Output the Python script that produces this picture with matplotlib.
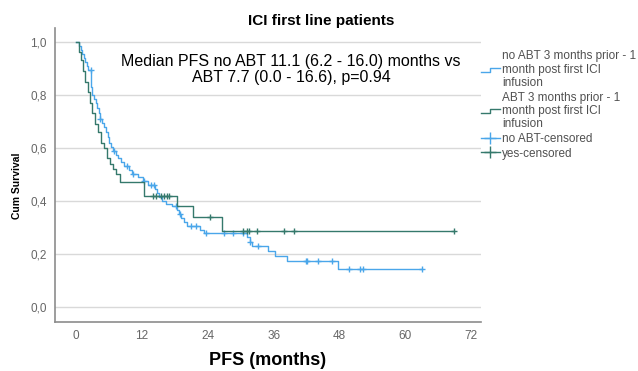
import numpy as np
import matplotlib
matplotlib.use('Agg')
import matplotlib.pyplot as plt
from matplotlib.lines import Line2D
from matplotlib.legend_handler import HandlerBase

plt.rcParams['font.family'] = ['Liberation Sans', 'DejaVu Sans']

# no ABT group: event times (months) and survival after each step
blue_t = [0, 0.55, 0.8, 1.1, 1.4, 1.65, 1.9, 2.2, 2.65, 2.75, 2.85, 3.2, 3.55, 3.85, 4.1, 4.3,
          4.65, 5.0, 5.4, 5.75, 6.0, 6.3, 6.65, 7.2, 7.55, 8.1, 8.7, 9.6, 10.1, 11.2, 12.1, 13.0,
          14.3, 14.7, 15.05, 15.6, 16.3, 17.4, 18.3, 18.7, 19.1, 19.6, 20.2, 22.5, 23.3, 31.1,
          31.6, 32.1, 35.0, 36.2, 38.4, 47.8]
blue_s = [1.0, 0.985, 0.97, 0.955, 0.94, 0.925, 0.91, 0.895, 0.86, 0.83, 0.80, 0.785, 0.77, 0.75, 0.73, 0.71,
          0.695, 0.68, 0.66, 0.64, 0.62, 0.605, 0.59, 0.575, 0.56, 0.545, 0.53, 0.515, 0.50, 0.49, 0.475, 0.46,
          0.445, 0.43, 0.415, 0.40, 0.39, 0.38, 0.365, 0.35, 0.335, 0.32, 0.305, 0.29, 0.278, 0.262,
          0.245, 0.228, 0.21, 0.192, 0.175, 0.142]
blue_cens = [2.6, 4.4, 6.8, 9.3, 10.4, 12.3, 13.6, 14.2, 18.2, 18.9, 21.0, 21.8, 23.6, 26.9, 28.6,
             30.4, 31.7, 33.2, 41.8, 42.1, 44.1, 46.6, 49.8, 51.7, 52.2, 63.0]

# ABT group
green_t = [0, 0.5, 0.8, 1.2, 1.6, 2.1, 2.5, 2.8, 3.4, 3.9, 4.5, 5.0, 5.6, 6.1, 6.7, 7.2, 7.9,
           12.3, 18.4, 21.3, 26.6]
green_s = [1.0, 0.96, 0.93, 0.89, 0.85, 0.81, 0.77, 0.73, 0.69, 0.66, 0.62, 0.60, 0.56, 0.54, 0.52, 0.50, 0.47,
           0.42, 0.382, 0.338, 0.287]
green_cens = [14.0, 14.5, 15.5, 15.95, 16.5, 16.9, 24.4, 30.4, 31.1, 31.5, 32.9, 37.9, 39.7, 68.9]

blue = '#4aa6ea'
green = '#35796c'


def surv_at(times, surv, c):
    i = np.searchsorted(times, c, side='right') - 1
    return np.array(surv)[i]


fig = plt.figure(figsize=(6.38, 3.71), dpi=100)
ax = fig.add_axes([0.086, 0.132, 0.668, 0.793])

for t, s, cens, col in [(blue_t, blue_s, blue_cens, blue), (green_t, green_s, green_cens, green)]:
    tt = list(t) + [max(cens)]
    ss = list(s) + [s[-1]]
    ax.step(tt, ss, where='post', color=col, lw=1.0)
    ax.plot(cens, surv_at(t, s, cens), ls='none', marker='+', ms=5, mew=1.0, color=col)

ax.set_xlim(-3.9, 73.8)
ax.set_ylim(-0.057, 1.053)
ax.set_xticks([0, 12, 24, 36, 48, 60, 72])
yt = [0, 0.2, 0.4, 0.6, 0.8, 1.0]
ax.set_yticks(yt)
ax.set_yticklabels([f'{v:.1f}'.replace('.', ',') for v in yt])
ax.tick_params(length=0, labelsize=8.5, colors='#666666', pad=6)
ax.yaxis.grid(True, color='#d9d9d9', lw=1)
ax.set_axisbelow(True)
for sp in ['top', 'right']:
    ax.spines[sp].set_visible(False)
for sp in ['left', 'bottom']:
    ax.spines[sp].set_color('#8c8c8c')
    ax.spines[sp].set_linewidth(1.2)

ax.set_xlabel('PFS (months)', fontsize=13, fontweight='bold', labelpad=7)
fig.text(0.027, 0.5, 'Cum Survival', rotation=90, fontsize=7.5, fontweight='bold', va='center', ha='center')
fig.text(0.503, 0.943, 'ICI first line patients', fontsize=11, fontweight='bold', ha='center', va='center')
ax.text(0.554, 0.858, 'Median PFS no ABT 11.1 (6.2 - 16.0) months vs\nABT 7.7 (0.0 - 16.6), p=0.94',
        transform=ax.transAxes, ha='center', va='center', fontsize=11.5, linespacing=1.02)


class StepHandler(HandlerBase):
    def create_artists(self, legend, orig, xd, yd, w, h, fontsize, trans):
        x = [xd, xd + w * 0.5, xd + w * 0.5, xd + w]
        y = [yd + h * 0.2, yd + h * 0.2, yd + h * 0.7, yd + h * 0.7]
        ln = Line2D(x, y, color=orig.get_color(), lw=1.0, transform=trans)
        return [ln]


h1 = Line2D([], [], color=blue, lw=1)
h2 = Line2D([], [], color=green, lw=1)
h3 = Line2D([], [], color=blue, lw=1, marker='+', ms=9)
h4 = Line2D([], [], color=green, lw=1, marker='+', ms=9)
leg = fig.legend([h1, h2, h3, h4],
                 ['no ABT 3 months prior - 1\nmonth post first ICI\ninfusion',
                  'ABT 3 months prior - 1\nmonth post first ICI\ninfusion',
                  'no ABT-censored', 'yes-censored'],
                 handler_map={h1: StepHandler(), h2: StepHandler()},
                 loc='upper left', bbox_to_anchor=(0.754, 0.864), frameon=False,
                 fontsize=8.5, handlelength=1.6, handletextpad=0.2, labelspacing=0.25,
                 borderaxespad=0, borderpad=0)
for txt in leg.get_texts():
    txt.set_color('#505050')
    txt.set_linespacing(1.12)

fig.savefig('out.png', dpi=100)
